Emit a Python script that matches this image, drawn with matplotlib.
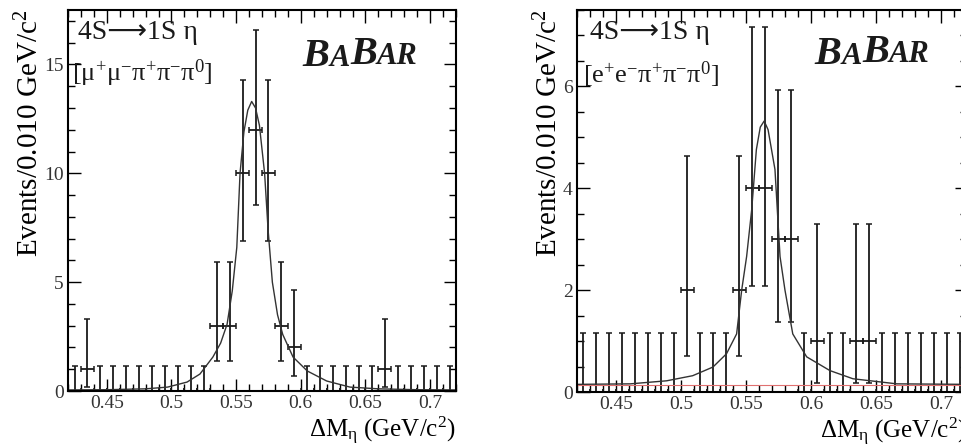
import numpy as np
import matplotlib
matplotlib.use('Agg')
import matplotlib.pyplot as plt
from matplotlib.ticker import MultipleLocator, FormatStrFormatter

plt.rcParams['font.family'] = ['Liberation Serif', 'DejaVu Sans']
plt.rcParams['mathtext.fontset'] = 'custom'
plt.rcParams['mathtext.rm'] = 'Liberation Serif'
plt.rcParams['mathtext.it'] = 'Liberation Serif:italic'

# bin centres of delta M_eta (GeV/c^2), bin width 0.010
bin_centres = [0.425, 0.435, 0.445, 0.455, 0.465, 0.475, 0.485, 0.495, 0.505, 0.515,
               0.525, 0.535, 0.545, 0.555, 0.565, 0.575, 0.585, 0.595, 0.605, 0.615,
               0.625, 0.635, 0.645, 0.655, 0.665, 0.675, 0.685, 0.695, 0.705, 0.715]
half_bin = 0.005

# events per bin
mumu_counts = [0, 1, 0, 0, 0, 0, 0, 0, 0, 0,
               0, 3, 3, 10, 12, 10, 3, 2, 0, 0,
               0, 0, 0, 0, 1, 0, 0, 0, 0, 0]
ee_counts = [0, 0, 0, 0, 0, 0, 0, 0, 2, 0,
             0, 0, 2, 4, 4, 3, 3, 0, 1, 0,
             0, 1, 1, 0, 0, 0, 0, 0, 0, 0]

# poisson error band (lower, upper) as drawn, per count
poisson_band = {0: (0.0, 1.15), 1: (0.17, 3.30), 2: (0.71, 4.64), 3: (1.37, 5.92),
                4: (2.09, 7.16), 10: (6.89, 14.27), 12: (8.56, 16.6)}

# fitted curves
mumu_fit_x = [0.420, 0.450, 0.480, 0.497, 0.512, 0.522, 0.532, 0.538, 0.543, 0.547,
              0.5505, 0.553, 0.556, 0.559, 0.562, 0.565, 0.568, 0.572, 0.5747, 0.578,
              0.582, 0.586, 0.594, 0.605, 0.620, 0.638, 0.660, 0.690, 0.720]
mumu_fit_y = [0.05, 0.06, 0.10, 0.18, 0.41, 0.78, 1.56, 2.2, 3.07, 4.6,
              6.6, 10.0, 11.9, 12.9, 13.3, 13.0, 12.2, 10.0, 7.4, 5.0,
              3.5, 2.6, 1.56, 0.92, 0.46, 0.18, 0.10, 0.06, 0.05]
ee_fit_x = [0.420, 0.461, 0.489, 0.509, 0.5246, 0.535, 0.5428, 0.5467, 0.5505, 0.5544,
            0.558, 0.561, 0.564, 0.567, 0.5723, 0.5762, 0.580, 0.586, 0.5967, 0.6146,
            0.6323, 0.666, 0.720]
ee_fit_y = [0.15, 0.16, 0.22, 0.32, 0.49, 0.75, 1.14, 2.0, 2.66, 3.58,
            4.76, 5.2, 5.32, 5.15, 4.37, 2.66, 2.0, 1.14, 0.69, 0.42,
            0.26, 0.16, 0.15]
ee_bkg_level = 0.13

ink = '#1a1a1a'


def drawData(ax, counts):
    lows = [poisson_band[n][0] for n in counts]
    highs = [poisson_band[n][1] for n in counts]
    yerr = [np.array(counts) - np.array(lows), np.array(highs) - np.array(counts)]
    ax.errorbar(bin_centres, counts, xerr=half_bin, yerr=yerr, fmt='none',
                ecolor=ink, elinewidth=1.3, capsize=2.5, capthick=1.1)


def addBabar(ax, x, y):
    big, small = 29, 22
    t = ax.text(x, y, 'B', transform=ax.transAxes, fontsize=big, fontweight='bold',
                style='italic', va='bottom', color=ink)
    for s, fs in [('A', small), ('B', big), ('AR', small)]:
        shift = 0.0 if fs == big else 0.2 * (big - small)
        t = ax.annotate(s, xy=(1, 0), xycoords=t, xytext=(0, shift), textcoords='offset points',
                        fontsize=fs, fontweight='bold', style='italic', va='bottom', color=ink)


def styleAxes(ax, ymax, ymajor, yminor):
    ax.set_xlim(0.42, 0.72)
    ax.set_ylim(0, ymax)
    ax.xaxis.set_major_locator(MultipleLocator(0.05))
    ax.xaxis.set_minor_locator(MultipleLocator(0.01))
    ax.xaxis.set_major_formatter(FormatStrFormatter('%g'))
    ax.yaxis.set_major_locator(MultipleLocator(ymajor))
    ax.yaxis.set_minor_locator(MultipleLocator(yminor))
    ax.tick_params(which='both', direction='in', top=True, right=True, width=1.0,
                   labelsize=14, labelcolor='#333333', pad=3)
    ax.tick_params(which='major', length=9)
    ax.tick_params(which='minor', length=5)
    for sp in ax.spines.values():
        sp.set_linewidth(1.5)
    ax.set_ylabel(r'Events/0.010 GeV/c$^\mathregular{2}$', fontsize=21, loc='top', labelpad=0)
    ax.set_xlabel(r'ΔM$_\mathregular{η}$ (GeV/c$^\mathregular{2}$)', fontsize=18, loc='right', labelpad=2)


def main():
    fig = plt.figure(figsize=(9.61, 4.48), dpi=100)
    axLeft = fig.add_axes([0.0708, 0.1272, 0.4037, 0.8504])
    axRight = fig.add_axes([0.6004, 0.125, 0.4058, 0.8527])

    drawData(axLeft, mumu_counts)
    axLeft.plot(mumu_fit_x, mumu_fit_y, color='#333333', lw=1.0)
    styleAxes(axLeft, 17.5, 5, 1)
    axLeft.text(0.026, 0.94, '4S⟶1S η', transform=axLeft.transAxes,
                fontsize=20, va='center', color=ink)
    axLeft.text(0.01, 0.835, r'[μ$^\mathregular{+}$μ$^\mathregular{-}$π$^\mathregular{+}$π$^\mathregular{-}$π$^\mathregular{0}$]',
                transform=axLeft.transAxes, fontsize=19, va='center', color=ink)
    addBabar(axLeft, 0.605, 0.83)

    drawData(axRight, ee_counts)
    axRight.axhline(ee_bkg_level, color='#e07070', lw=0.8)
    axRight.plot(ee_fit_x, ee_fit_y, color='#333333', lw=1.0)
    styleAxes(axRight, 7.5, 2, 0.5)
    axRight.text(0.033, 0.94, '4S⟶1S η', transform=axRight.transAxes,
                 fontsize=20, va='center', color=ink)
    axRight.text(0.015, 0.83, r'[e$^\mathregular{+}$e$^\mathregular{-}$π$^\mathregular{+}$π$^\mathregular{-}$π$^\mathregular{0}$]',
                 transform=axRight.transAxes, fontsize=19, va='center', color=ink)
    addBabar(axRight, 0.61, 0.835)

    fig.savefig('out.png', dpi=100)


if __name__ == '__main__':
    main()
